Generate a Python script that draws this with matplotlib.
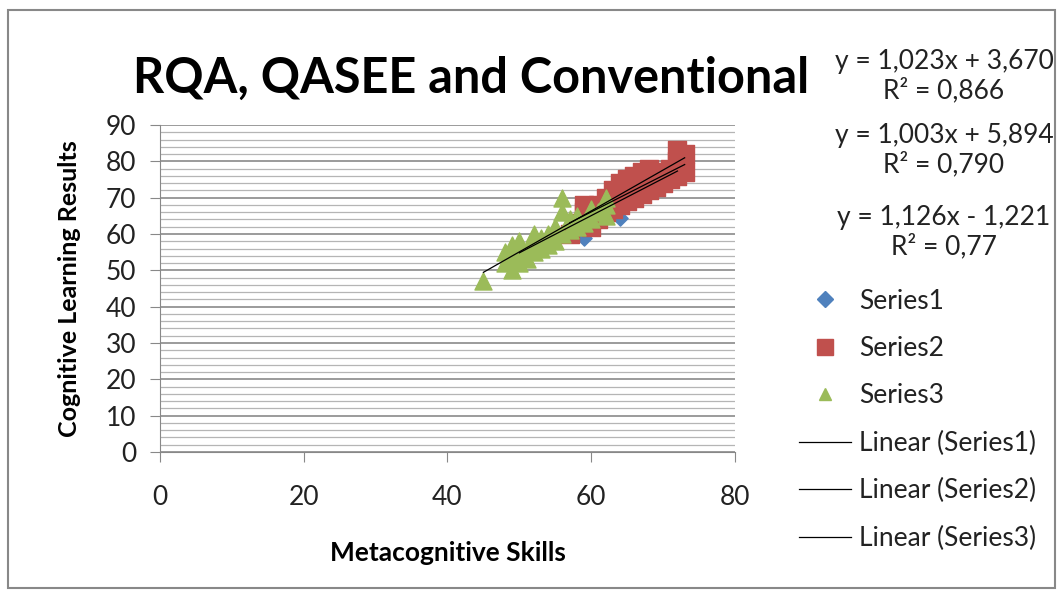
import numpy as np
import matplotlib.pyplot as plt
from matplotlib.patches import Rectangle
from matplotlib.lines import Line2D

plt.rcParams['font.family'] = ['Lato', 'DejaVu Sans']

# data
s1_x = [50, 52, 55, 57, 59, 60, 62, 64, 65, 68, 70, 72]
s1_y = [55, 57, 60, 62, 59, 65, 67, 64.5, 70, 73, 75, 77]

s2_x = [57, 58, 59, 59, 60, 60, 61, 61, 62, 62, 63, 63, 64, 64, 64, 65, 65, 65,
        66, 66, 66, 67, 67, 67, 68, 68, 68, 69, 69, 70, 70, 71, 71, 72, 72, 73, 73, 72]
s2_y = [60, 63, 66, 68, 62, 65, 64, 68, 66, 70, 67, 72, 68, 70, 74, 69, 72, 75,
        70, 73, 76, 71, 74, 77, 72, 75, 78, 73, 76, 74, 77, 75, 78, 76, 80, 77, 82, 83]

s3_x = [45, 48, 48, 49, 49, 49, 50, 50, 50, 51, 51, 52, 52, 52, 53, 53, 54, 54,
        55, 55, 56, 56, 56, 57, 57, 58, 58, 59, 60, 60, 61, 62, 62, 62]
s3_y = [47, 52, 55, 50, 53, 57, 52, 55, 58, 53, 56, 55, 58, 60, 56, 59, 57, 60,
        58, 62, 66, 70, 60, 61, 64, 62, 65, 63, 64, 67, 66, 65, 70, 68]

# trendline coefficients as printed on the chart
slopes = [1.023, 1.003, 1.126]
intercepts = [3.670, 5.894, -1.221]
eq_labels = ['y = 1,023x + 3,670\nR² = 0,866',
             'y = 1,003x + 5,894\nR² = 0,790',
             'y = 1,126x - 1,221\nR² = 0,77']

blue = '#4F81BD'
red = '#C0504D'
green = '#9BBB59'

fig = plt.figure(figsize=(10.63, 5.91), dpi=100)
ax = fig.add_axes([0.1505, 0.2352, 0.5409, 0.5533])

ax.scatter(s1_x, s1_y, marker='D', s=60, color=blue, zorder=3)
ax.scatter(s2_x, s2_y, marker='s', s=150, color=red, zorder=3)
ax.scatter(s3_x, s3_y, marker='^', s=150, color=green, zorder=4)

trend_x = [(min(s1_x), max(s1_x)), (min(s2_x), max(s2_x)), (45, 73)]
for (x0, x1), m, b in zip(trend_x, slopes, intercepts):
    xx = np.array([x0, x1])
    ax.plot(xx, m * xx + b, color='black', lw=0.9, zorder=5)

ax.set_xlim(0, 80)
ax.set_ylim(0, 90)
ax.set_xticks([0, 20, 40, 60, 80])
ax.set_yticks(range(0, 91, 10))
ax.set_yticks(range(0, 91, 2), minor=True)
ax.grid(axis='y', which='major', color='#808080', lw=1.1, zorder=0)
ax.grid(axis='y', which='minor', color='#b5b5b5', lw=0.9, zorder=0)
ax.tick_params(axis='both', which='major', labelsize=19, colors='#222222',
               length=7, direction='out', color='#888888')
ax.tick_params(axis='y', which='minor', length=0)
ax.tick_params(axis='x', pad=17)
ax.tick_params(axis='y', pad=10)
for side in ['top', 'right']:
    ax.spines[side].set_visible(False)
for side in ['left', 'bottom']:
    ax.spines[side].set_color('#888888')

ax.set_xlabel('Metacognitive Skills', fontsize=19, fontweight='bold', labelpad=22)
ax.set_ylabel('Cognitive Learning Results', fontsize=18, fontweight='bold', labelpad=18)

fig.text(0.443, 0.868, 'RQA, QASEE and Conventional', fontsize=35,
         fontweight='bold', ha='center', va='center')

eq_y = [0.871, 0.746, 0.607]
for yy, lab in zip(eq_y, eq_labels):
    fig.text(0.888, yy, lab, fontsize=19, ha='center', va='center',
             color='#222222', linespacing=1.15)

handles = [
    Line2D([], [], marker='D', color=blue, ls='none', markersize=8),
    Line2D([], [], marker='s', color=red, ls='none', markersize=11),
    Line2D([], [], marker='^', color=green, ls='none', markersize=9),
    Line2D([], [], color='black', lw=0.9),
    Line2D([], [], color='black', lw=0.9),
    Line2D([], [], color='black', lw=0.9),
]
labels = ['Series1', 'Series2', 'Series3',
          'Linear (Series1)', 'Linear (Series2)', 'Linear (Series3)']
fig.legend(handles, labels, loc='upper left', bbox_to_anchor=(0.729, 0.552),
           frameon=False, fontsize=19, labelspacing=0.85, handlelength=2.0,
           handletextpad=0.3, labelcolor='#222222')

fig.patches.append(Rectangle((0.0075, 0.005), 0.985, 0.978, transform=fig.transFigure,
                             fill=False, edgecolor='#888888', lw=1.5))

fig.savefig('out.png', dpi=100)
